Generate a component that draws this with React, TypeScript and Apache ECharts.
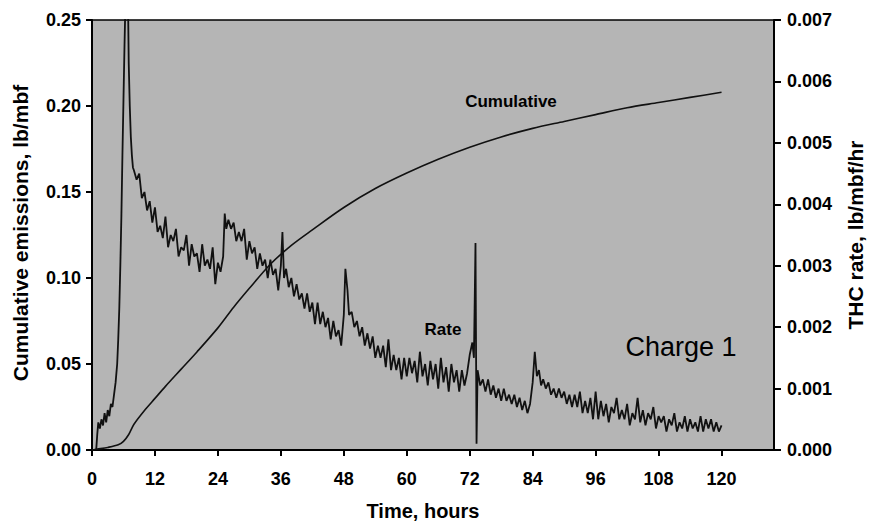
import React, { useEffect, useRef } from "react";
import * as echarts from "echarts";

// X axis (hours)
const xTicks = [0, 12, 24, 36, 48, 60, 72, 84, 96, 108, 120];
const leftTicks = ["0.00", "0.05", "0.10", "0.15", "0.20", "0.25"];
const rightTicks = ["0.000", "0.001", "0.002", "0.003", "0.004", "0.005", "0.006", "0.007"];

// Cumulative emissions, lb/mbf
const cumHours = [0, 1, 3, 5, 6, 7, 8, 10, 12, 14, 17, 20, 24, 27, 30, 34, 38, 42, 48, 54, 60, 66, 72, 78, 84, 90, 96, 102, 108, 114, 120];
const cumValues = [0, 0.0005, 0.0015, 0.003, 0.005, 0.009, 0.015, 0.023, 0.03, 0.037, 0.047, 0.057, 0.071, 0.083, 0.094, 0.108, 0.119, 0.128, 0.141, 0.152, 0.161, 0.169, 0.176, 0.182, 0.187, 0.191, 0.195, 0.199, 0.202, 0.205, 0.208];

// THC rate, lb/mbf/hr  [hour, rate]
const ratePoints: [number, number][] = [
  [0.8, 0], [1.0, 0.00025], [1.2, 0.00045], [1.5, 0.00035], [1.8, 0.0005], [2.1, 0.0004], [2.4, 0.0006], [2.7, 0.00045],
  [3.0, 0.00065], [3.3, 0.00055], [3.6, 0.00075], [3.9, 0.0007], [4.2, 0.0009], [4.5, 0.0011], [4.8, 0.0014], [5.0, 0.0018],
  [5.2, 0.0023], [5.4, 0.003], [5.6, 0.0038], [5.8, 0.0048], [6.0, 0.0057], [6.2, 0.0066], [6.4, 0.0074], [6.6, 0.0085],
  [6.8, 0.0078], [7.0, 0.0063], [7.2, 0.0056], [7.4, 0.0051], [7.6, 0.0048], [7.8, 0.0046],
  [8.0, 0.00455], [8.5, 0.0044], [9.0, 0.0045], [9.5, 0.0041], [10.0, 0.0042], [10.5, 0.0039], [11.0, 0.00405], [11.5, 0.0037],
  [12.0, 0.00395], [12.5, 0.00355], [13.0, 0.00365], [13.5, 0.00345], [14.0, 0.0038], [14.5, 0.0033], [15.0, 0.0035], [15.5, 0.0034],
  [16.0, 0.0036], [16.5, 0.00315], [17.0, 0.0033], [17.5, 0.00325], [18.0, 0.0035], [18.5, 0.003], [19.0, 0.00335], [19.5, 0.00315],
  [20.0, 0.0032], [20.5, 0.0029], [21.0, 0.00335], [21.5, 0.003], [22.0, 0.0031], [22.5, 0.00295], [23.0, 0.0033], [23.5, 0.0027],
  [24.0, 0.00305], [24.5, 0.0029], [25.0, 0.00315], [25.3, 0.00385], [25.6, 0.0036], [26.0, 0.00375], [26.5, 0.0036], [27.0, 0.0037],
  [27.5, 0.0034], [28.0, 0.00355], [28.5, 0.0034], [29.0, 0.0036], [29.5, 0.0031], [30.0, 0.0034], [30.5, 0.0032], [31.0, 0.0033],
  [31.5, 0.00295], [32.0, 0.0032], [32.5, 0.003], [33.0, 0.0031], [33.5, 0.0028], [34.0, 0.0031], [34.5, 0.00285], [35.0, 0.00295],
  [35.5, 0.0026], [36.0, 0.003], [36.3, 0.00355], [36.6, 0.0028], [37.0, 0.00295], [37.5, 0.00265], [38.0, 0.0028], [38.5, 0.0025],
  [39.0, 0.0027], [39.5, 0.00245], [40.0, 0.00255], [40.5, 0.0023], [41.0, 0.00255], [41.5, 0.00225], [42.0, 0.0024], [42.5, 0.00205],
  [43.0, 0.0024], [43.5, 0.00205], [44.0, 0.00225], [44.5, 0.002], [45.0, 0.00215], [45.5, 0.0018], [46.0, 0.0021], [46.5, 0.00185],
  [47.0, 0.00195], [47.5, 0.0017], [48.0, 0.0022], [48.3, 0.00295], [48.7, 0.0026], [49.0, 0.0022], [49.5, 0.00225], [50.0, 0.002],
  [50.5, 0.0021], [51.0, 0.00185], [51.5, 0.002], [52.0, 0.0017], [52.5, 0.0019], [53.0, 0.00165], [53.5, 0.00185], [54.0, 0.0015],
  [54.5, 0.0017], [55.0, 0.0015], [55.5, 0.0017], [56.0, 0.00135], [56.5, 0.0018], [57.0, 0.0013], [57.5, 0.00155], [58.0, 0.0013],
  [58.5, 0.0015], [59.0, 0.00115], [59.5, 0.0015], [60.0, 0.0012], [60.5, 0.0015], [61.0, 0.00125], [61.5, 0.00145], [62.0, 0.0011],
  [62.5, 0.0016], [63.0, 0.0012], [63.5, 0.0014], [64.0, 0.00105], [64.5, 0.00145], [65.0, 0.00115], [65.5, 0.0014], [66.0, 0.001],
  [66.5, 0.0015], [67.0, 0.0011], [67.5, 0.00135], [68.0, 0.00095], [68.5, 0.0014], [69.0, 0.0011], [69.5, 0.0013], [70.0, 0.00095],
  [70.5, 0.0013], [71.0, 0.00105], [71.5, 0.00125], [72.0, 0.00155], [72.5, 0.00175], [72.8, 0.0015], [73.1, 0.00337], [73.3, 0.0001],
  [73.5, 0.0013], [74.0, 0.00105], [74.5, 0.00115], [75.0, 0.00095], [75.5, 0.00115], [76.0, 0.0009], [76.5, 0.00105], [77.0, 0.00085],
  [77.5, 0.001], [78.0, 0.0008], [78.5, 0.001], [79.0, 0.0008], [79.5, 0.0009], [80.0, 0.00075], [80.5, 0.0009], [81.0, 0.0007],
  [81.5, 0.00085], [82.0, 0.00065], [82.5, 0.0008], [83.0, 0.0006], [83.5, 0.00075], [84.0, 0.0011], [84.4, 0.0016], [84.8, 0.0012],
  [85.2, 0.0013], [85.6, 0.00105], [86.0, 0.00115], [86.5, 0.001], [87.0, 0.0011], [87.5, 0.0009], [88.0, 0.001], [88.5, 0.00085],
  [89.0, 0.001], [89.5, 0.00085], [90.0, 0.00095], [90.5, 0.00075], [91.0, 0.0009], [91.5, 0.0007], [92.0, 0.0009], [92.5, 0.0007],
  [93.0, 0.00095], [93.5, 0.0006], [94.0, 0.0008], [94.5, 0.0006], [95.0, 0.00085], [95.5, 0.0005], [96.0, 0.00095], [96.5, 0.0005],
  [97.0, 0.0008], [97.5, 0.00055], [98.0, 0.00075], [98.5, 0.00045], [99.0, 0.0007], [99.5, 0.0006], [100.0, 0.00085], [100.5, 0.0005],
  [101.0, 0.00065], [101.5, 0.0005], [102.0, 0.00075], [102.5, 0.0004], [103.0, 0.0006], [103.5, 0.0005], [104.0, 0.00085], [104.5, 0.00045],
  [105.0, 0.00065], [105.5, 0.0004], [106.0, 0.0006], [106.5, 0.0005], [107.0, 0.0007], [107.5, 0.00035], [108.0, 0.00055], [108.5, 0.00045],
  [109.0, 0.00055], [109.5, 0.0003], [110.0, 0.0005], [110.5, 0.0004], [111.0, 0.0006], [111.5, 0.0003], [112.0, 0.00045], [112.5, 0.00035],
  [113.0, 0.00055], [113.5, 0.0003], [114.0, 0.0005], [114.5, 0.00035], [115.0, 0.00045], [115.5, 0.0003], [116.0, 0.00055], [116.5, 0.0003],
  [117.0, 0.0005], [117.5, 0.00035], [118.0, 0.0005], [118.5, 0.0003], [119.0, 0.00045], [119.5, 0.0003], [120.0, 0.0004],
];

const FONT = "'Liberation Sans', Arial, sans-serif";

export default function App() {
  const ref = useRef<HTMLDivElement>(null);

  useEffect(() => {
    if (!ref.current) return;
    const chart = echarts.init(ref.current, undefined, { renderer: "svg" });
    const labelStyle = { color: "#000", fontFamily: FONT, fontWeight: "bold" as const, fontSize: 18 };
    const option = {
      animation: false,
      backgroundColor: "#ffffff",
      grid: {
        left: 92, right: 96, top: 20, bottom: 75,
        show: true, backgroundColor: "#b5b5b5", borderColor: "#000", borderWidth: 1.5,
      },
      xAxis: {
        type: "value", min: 0, max: 130, interval: 12,
        axisLine: { show: true, onZero: false, lineStyle: { color: "#000", width: 2 } },
        axisTick: { show: true, length: 6, lineStyle: { color: "#000", width: 2 } },
        axisLabel: {
          ...labelStyle, margin: 20, showMaxLabel: false,
          formatter: (v: number) => (xTicks.includes(v) ? String(v) : ""),
        },
        splitLine: { show: false },
      },
      yAxis: [
        {
          type: "value", min: 0, max: 0.25, interval: 0.05, position: "left",
          axisLine: { show: true, lineStyle: { color: "#000", width: 2 } },
          axisTick: { show: true, length: 6, lineStyle: { color: "#000", width: 2 } },
          axisLabel: {
            ...labelStyle, margin: 11,
            formatter: (v: number) => leftTicks[Math.round(v / 0.05)] ?? "",
          },
          splitLine: { show: false },
        },
        {
          type: "value", min: 0, max: 0.007, interval: 0.001, position: "right",
          axisLine: { show: true, lineStyle: { color: "#000", width: 2 } },
          axisTick: { show: true, length: 7, lineStyle: { color: "#000", width: 2 } },
          axisLabel: {
            ...labelStyle, margin: 13,
            formatter: (v: number) => rightTicks[Math.round(v / 0.001)] ?? "",
          },
          splitLine: { show: false },
        },
      ],
      series: [
        {
          name: "Cumulative", type: "line", yAxisIndex: 0, smooth: 0.3, showSymbol: false, clip: true,
          lineStyle: { color: "#111", width: 1.6 },
          data: cumHours.map((h, i) => [h, cumValues[i]]),
        },
        {
          name: "Rate", type: "line", yAxisIndex: 1, showSymbol: false, clip: true,
          lineStyle: { color: "#111", width: 1.8 },
          data: ratePoints,
        },
      ],
      graphic: [
        { type: "text", x: 423, y: 511, style: { text: "Time, hours", fill: "#000", font: `bold 20px ${FONT}`, textAlign: "center", textVerticalAlign: "middle" } },
        { type: "text", x: 20, y: 233, rotation: Math.PI / 2, style: { text: "Cumulative emissions, lb/mbf", fill: "#000", font: `bold 21px ${FONT}`, textAlign: "center", textVerticalAlign: "middle" } },
        { type: "text", x: 855, y: 235, rotation: Math.PI / 2, style: { text: "THC rate, lb/mbf/hr", fill: "#000", font: `bold 21px ${FONT}`, textAlign: "center", textVerticalAlign: "middle" } },
        { type: "text", x: 511, y: 101, style: { text: "Cumulative", fill: "#000", font: `bold 17px ${FONT}`, textAlign: "center", textVerticalAlign: "middle" } },
        { type: "text", x: 443, y: 329, style: { text: "Rate", fill: "#000", font: `bold 17px ${FONT}`, textAlign: "center", textVerticalAlign: "middle" } },
        { type: "text", x: 681, y: 347, style: { text: "Charge 1", fill: "#000", font: `27px ${FONT}`, textAlign: "center", textVerticalAlign: "middle" } },
      ],
    };
    chart.setOption(option);
    return () => chart.dispose();
  }, []);

  return <div ref={ref} style={{ position: "fixed", left: 0, top: 0, width: 870, height: 525 }} />;
}
